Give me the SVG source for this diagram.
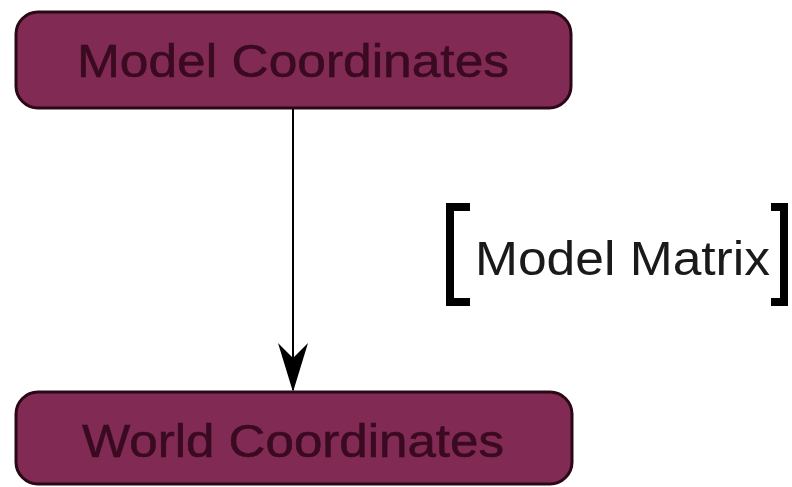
<svg xmlns="http://www.w3.org/2000/svg" width="792" height="487" viewBox="0 0 792 487">
<style>
.box{fill:#812a53;stroke:#2a0816;stroke-width:3}
.lbl{font-family:"Liberation Sans",Arial,sans-serif;font-size:47px;fill:#3a0a20;stroke:#3a0a20;stroke-width:0.6;text-anchor:middle}
.edge{stroke:#000;stroke-width:2;fill:none}
.note{font-family:"Liberation Sans",Arial,sans-serif;font-size:48px;fill:#1a1a1a}
.br{stroke:#000;stroke-width:8;fill:none}
</style>
<rect width="792" height="487" fill="#fff"/>
<g id="connectors">
<line class="edge" x1="293" y1="108" x2="293" y2="390"/>
<path d="M278,343 L293,358 L308,343 L293,392 Z" fill="#000"/>
</g>
<g id="model">
<rect class="box" x="16" y="12" width="555" height="96" rx="22"/>
<text class="lbl" x="293" y="77" textLength="432" lengthAdjust="spacingAndGlyphs">Model Coordinates</text>
</g>
<g id="world">
<rect class="box" x="16" y="392" width="556" height="92" rx="22"/>
<text class="lbl" x="293" y="457" textLength="422" lengthAdjust="spacingAndGlyphs">World Coordinates</text>
</g>
<g id="label">
<path class="br" d="M470,207 H450 V302 H470"/>
<path class="br" d="M771,207 H784 V302 H771"/>
<text class="note" x="475" y="275" textLength="295" lengthAdjust="spacingAndGlyphs">Model Matrix</text>
</g>
</svg>
